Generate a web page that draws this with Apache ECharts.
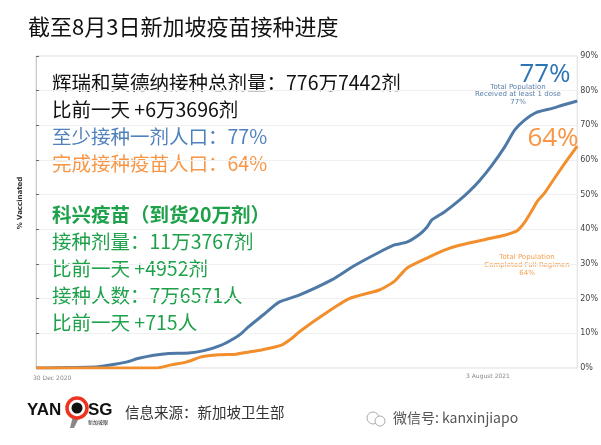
<!DOCTYPE html>
<html><head><meta charset="utf-8">
<script src="https://cdn.jsdelivr.net/npm/echarts@6/dist/echarts.min.js"></script>
<style>html,body{margin:0;padding:0;background:#fff}#c{width:601px;height:445px}</style>
</head><body><div id="c"></div>
<script>
// Days since 30 Dec 2020
const blueDays   = [0,24,29,36,41,47,53,61,67,74,79,82,85,91,97,105,118,127,137,143,148,153,156,158,163,169,173,177,182,187,191,195,200,206,210,216];
const blueValues = [0,0.3,0.8,1.7,2.8,3.7,4.2,4.3,5.0,6.6,8.5,10,12,15.5,19,21,25.4,29.5,33.4,35.5,36.3,38.5,40.6,42.7,45,48.4,51,54,58.5,63.7,68.6,71.5,73.8,74.9,75.8,77];
const orangeDays   = [0,48,54,60,66,73,80,85,90,98,102,105,115,125,137,143,148,156,163,169,182,187,192,195,198,200,203,207,211,216];
const orangeValues = [0,0,0.9,1.7,3.2,3.8,4.0,4.6,5.2,6.6,8.5,10.4,15.5,20,22.5,25,28.8,31.7,34,35.4,37.5,38.3,39.6,42,45.5,48,50.5,54.8,59,64];
const xTickLabels = ['30 Dec 2020','3 August 2021'];
const titleText = '截至8月3日新加坡疫苗接种进度';
const blackLines = ['辉瑞和莫德纳接种总剂量：776万7442剂','比前一天 +6万3696剂'];
const blueLine = '至少接种一剂人口：77%';
const orangeLine = '完成接种疫苗人口：64%';
const greenLines = ['科兴疫苗（到货20万剂）','接种剂量：11万3767剂','比前一天 +4952剂','接种人数：7万6571人','比前一天 +715人'];
const blueAnno = ['Total Population','Received at least 1 dose','77%'];
const orangeAnno = ['Total Population','Completed Full Regimen','64%'];

const CJK = '"Noto Sans CJK SC","Noto Sans",sans-serif';
const zip = (a,b)=>a.map((d,i)=>[d,b[i]]);

const graphics = [];
function txt(x,y,text,size,color,extra){
  graphics.push({type:'text',x:x,y:y,style:Object.assign({text:text,fontSize:size,fill:color,fontFamily:CJK,textVerticalAlign:'middle'},extra||{})});
}
blackLines.forEach((t,i)=>txt(52,83+i*27,t,19.5,'#111'));
txt(52,137,blueLine,19.5,'#4f81bd');
txt(52,164,orangeLine,19.5,'#f79646');
greenLines.forEach((t,i)=>txt(52,215+i*26.8,t,19.5,'#1ea14a',i===0?{fontWeight:'bold'}:{}));
txt(545,75,'77%',26,'#2e75b6',{textAlign:'center',fontFamily:'"Open Sans",sans-serif'});
blueAnno.forEach((t,i)=>txt(518,87+i*7.5,t,7,'#5b7fa8',{textAlign:'center',fontFamily:'"DejaVu Sans",sans-serif'}));
txt(553,139,'64%',26,'#f79646',{textAlign:'center',fontFamily:'"Open Sans",sans-serif'});
orangeAnno.forEach((t,i)=>txt(527,257+i*8,t,7,'#f5a050',{textAlign:'center',fontFamily:'"DejaVu Sans",sans-serif'}));
txt(33,378,xTickLabels[0],6,'#888',{fontFamily:'"DejaVu Sans",sans-serif'});
txt(466,376,xTickLabels[1],6,'#888',{fontFamily:'"DejaVu Sans",sans-serif'});
graphics.push({type:'text',x:20,y:203,rotation:Math.PI/2,style:{text:'% Vaccinated',fontSize:7,fill:'#333',fontWeight:'bold',fontFamily:'"DejaVu Sans",sans-serif',textAlign:'center',textVerticalAlign:'middle'}});
// footer
txt(27,410,'YAN',17,'#111',{fontWeight:'bold',fontFamily:'"Liberation Sans",sans-serif'});
graphics.push({type:'polygon',shape:{points:[[73,416],[80,416],[74,428],[70,428]]},style:{fill:'#888'}});
graphics.push({type:'circle',shape:{cx:77,cy:408,r:10},style:{fill:'#fff',stroke:'#e32',lineWidth:3.5}});
graphics.push({type:'circle',shape:{cx:77,cy:408,r:5.5},style:{fill:'#111'}});
txt(88,410,'SG',17,'#111',{fontWeight:'bold',fontFamily:'"Liberation Sans",sans-serif'});
txt(88,422,'新加坡眼',5,'#111');
txt(125,412,'信息来源：新加坡卫生部',14.5,'#333');
graphics.push({type:'circle',shape:{cx:373,cy:418,r:6},style:{fill:'none',stroke:'#aaa',lineWidth:1}});
graphics.push({type:'circle',shape:{cx:380,cy:421,r:5},style:{fill:'#fff',stroke:'#aaa',lineWidth:1}});
txt(393,418,'微信号: kanxinjiapo',14,'#555');

const chart = echarts.init(document.getElementById('c'));
chart.setOption({
  animation:false,
  backgroundColor:'#fff',
  title:{text:titleText,left:23,top:11,textStyle:{fontSize:22,fontWeight:'normal',color:'#111',fontFamily:CJK}},
  grid:{left:36,right:22,top:56,bottom:77,show:true,borderColor:'#ddd',borderWidth:1},
  xAxis:{type:'value',min:0,max:216,axisLine:{show:false},axisTick:{show:false},axisLabel:{show:false},splitLine:{show:false}},
  yAxis:{type:'value',position:'right',min:0,max:90,interval:10,
    axisLine:{show:true,lineStyle:{color:'#ccc'}},
    axisTick:{show:true,length:3,lineStyle:{color:'#666'}},
    axisLabel:{formatter:'{value}%',fontSize:8,color:'#444',margin:3,fontFamily:'"DejaVu Sans",sans-serif'},
    splitLine:{show:true,lineStyle:{color:'#f0f0f0'}}},
  series:[
    {type:'line',data:zip(blueDays,blueValues),showSymbol:false,smooth:0.2,lineStyle:{color:'#4e79a7',width:3},z:3},
    {type:'line',data:zip(orangeDays,orangeValues),showSymbol:false,smooth:0.2,lineStyle:{color:'#f28e2b',width:3},z:3}
  ],
  graphic:graphics
});
</script></body></html>
